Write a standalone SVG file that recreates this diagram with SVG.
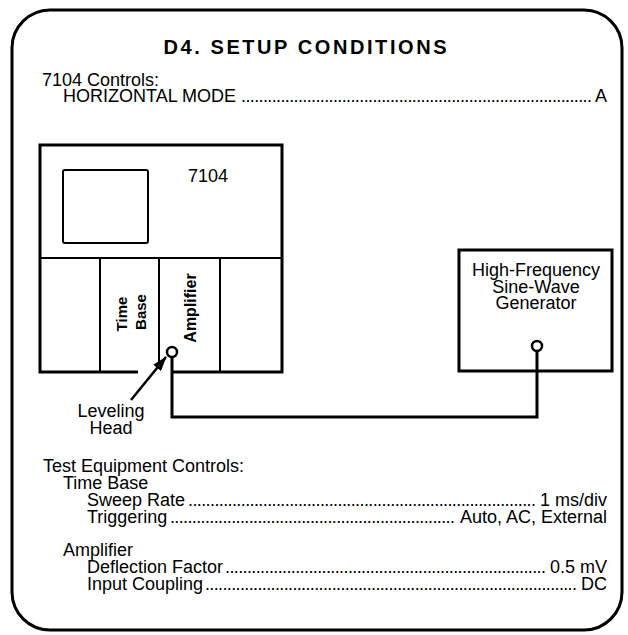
<svg xmlns="http://www.w3.org/2000/svg" width="628" height="635" viewBox="0 0 628 635">
<defs>
<style>
text{font-family:"Liberation Sans",Arial,sans-serif;fill:#000;font-size:18px}
.b{font-weight:bold}
.rot{font-weight:bold;font-size:15px}
.thick{fill:none;stroke:#000;stroke-width:3}
.thin{fill:none;stroke:#000;stroke-width:2}
</style>
<marker id="ah" markerWidth="15" markerHeight="10" refX="14" refY="5" orient="auto" markerUnits="userSpaceOnUse">
<path d="M0,0 L15,5 L0,10 Z" fill="#000"/>
</marker>
</defs>
<rect width="628" height="635" fill="#fff"/>
<g id="frame">
<rect x="12" y="10" width="610" height="620" rx="38" ry="38" class="thick"/>
</g>
<g id="title">
<text class="b" x="305" y="54" text-anchor="middle" style="font-size:20px" textLength="283" lengthAdjust="spacing">D4.  SETUP  CONDITIONS</text>
</g>
<g id="controls7104">
<text x="42" y="86">7104 Controls:</text>
<text x="63" y="102">HORIZONTAL MODE</text>
<text x="241" y="102" textLength="351">................................................................................</text>
<text x="607" y="102" text-anchor="end">A</text>
</g>
<g id="scope7104">
<path class="thick" d="M138,372 H40 V145 H282 V372 H172"/>
<path class="thin" d="M40,258 H282 M100,258 V372 M159,258 V362 M220,258 V372"/>
<rect x="63" y="170" width="85" height="73" rx="2" class="thin"/>
<text x="188" y="182">7104</text>
<text class="rot" transform="translate(127,314) rotate(-90)" text-anchor="middle">Time</text>
<text class="rot" transform="translate(146,312) rotate(-90)" text-anchor="middle">Base</text>
<text class="rot" transform="translate(196,308) rotate(-90)" text-anchor="middle" style="font-size:16px">Amplifier</text>
</g>
<g id="generator">
<rect x="459" y="250" width="153" height="121" class="thick"/>
<text x="536" y="276" text-anchor="middle">High-Frequency</text>
<text x="536" y="293" text-anchor="middle">Sine-Wave</text>
<text x="536" y="309" text-anchor="middle">Generator</text>
</g>
<g id="leveling-head">
<text x="111" y="417" text-anchor="middle">Leveling</text>
<text x="111" y="434" text-anchor="middle">Head</text>
</g>
<g id="connectors">
<path class="thick" d="M172,357 V417 H537 V351"/>
<line x1="131" y1="400" x2="166" y2="357" stroke="#000" stroke-width="2.5" marker-end="url(#ah)"/>
<circle cx="172" cy="352" r="5" fill="#fff" stroke="#000" stroke-width="2.5"/>
<circle cx="537" cy="346" r="5" fill="#fff" stroke="#000" stroke-width="2.5"/>
</g>
<g id="test-equipment">
<text x="43" y="472">Test Equipment Controls:</text>
<text x="63" y="489">Time Base</text>
<text x="87" y="506">Sweep Rate</text>
<text x="188" y="506" textLength="348">...............................................................................</text>
<text x="607" y="506" text-anchor="end">1 ms/div</text>
<text x="87" y="523">Triggering</text>
<text x="170" y="523" textLength="285">.................................................................</text>
<text x="607" y="523" text-anchor="end">Auto, AC, External</text>
<text x="63" y="556">Amplifier</text>
<text x="87" y="573">Deflection Factor</text>
<text x="225" y="573" textLength="321">.........................................................................</text>
<text x="607" y="573" text-anchor="end">0.5 mV</text>
<text x="87" y="590">Input Coupling</text>
<text x="205" y="590" textLength="372">.....................................................................................</text>
<text x="607" y="590" text-anchor="end">DC</text>
</g>
</svg>
